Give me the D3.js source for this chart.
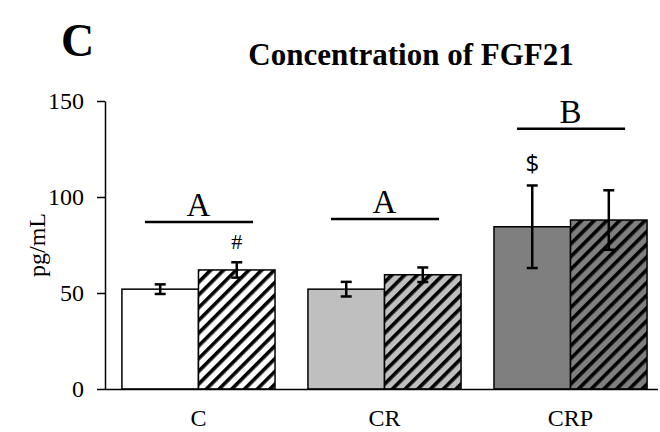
<!DOCTYPE html>
<html>
<head>
<meta charset="utf-8">
<script src="https://cdn.jsdelivr.net/npm/d3@7"></script>
<style>
  body { margin: 0; background: #fff; }
  svg { display: block; font-family: "Times New Roman", "Liberation Serif", serif; }
</style>
</head>
<body>
<div id="chart"></div>
<script>
// groups and the two bars in each (plain / hatched)
const groups = ['C', 'CR', 'CRP'];
const plainMeans = [52, 52, 84.5];
const plainErrs = [2.5, 3.8, 21.5];
const hatchMeans = [62, 59.5, 88];
const hatchErrs = [4, 3.8, 15.5];
const yTicks = [0, 50, 100, 150];

// significance letters over each group
const letters = ['A', 'A', 'B'];
const letterLevels = [87, 88.5, 135.5];
// extra markers above single bars
const markers = [
  { group: 'C', bar: 'hatch', label: '#', level: 73 },
  { group: 'CRP', bar: 'plain', label: '$', level: 113 }
];

const fills = { C: '#ffffff', CR: '#bfbfbf', CRP: '#7f7f7f' };
const serif = '"Times New Roman", "Liberation Serif", serif';

const width = 660, height = 432;
const svg = d3.select('#chart').append('svg')
  .attr('width', width)
  .attr('height', height);

// hatch patterns, one per group background
const defs = svg.append('defs');
groups.forEach(g => {
  const p = defs.append('pattern')
    .attr('id', 'hatch-' + g)
    .attr('patternUnits', 'userSpaceOnUse')
    .attr('width', 9)
    .attr('height', 9)
    .attr('patternTransform', 'rotate(45)');
  p.append('rect').attr('width', 9).attr('height', 9).attr('fill', fills[g]);
  p.append('rect').attr('width', 3.6).attr('height', 9).attr('fill', '#000');
});

const x = d3.scaleBand()
  .domain(groups)
  .range([105, 664])
  .paddingInner(0.177)
  .paddingOuter(0.091);

const xSub = d3.scaleBand()
  .domain(['plain', 'hatch'])
  .range([0, x.bandwidth()]);

const y = d3.scaleLinear().domain([0, 150]).range([389, 101]);

const rows = groups.map((g, i) => ({
  group: g,
  bars: [
    { key: 'plain', mean: plainMeans[i], err: plainErrs[i] },
    { key: 'hatch', mean: hatchMeans[i], err: hatchErrs[i] }
  ]
}));

// bars
const gGroup = svg.append('g').selectAll('g')
  .data(rows)
  .join('g')
  .attr('transform', d => `translate(${x(d.group)},0)`);

gGroup.selectAll('rect')
  .data(d => d.bars.map(b => ({ ...b, group: d.group })))
  .join('rect')
  .attr('x', d => xSub(d.key))
  .attr('y', d => y(d.mean))
  .attr('width', xSub.bandwidth())
  .attr('height', d => y(0) - y(d.mean))
  .attr('fill', d => d.key === 'plain' ? fills[d.group] : `url(#hatch-${d.group})`)
  .attr('stroke', '#000')
  .attr('stroke-width', 1.5);

// error bars
const eb = gGroup.selectAll('g.err')
  .data(d => d.bars)
  .join('g')
  .attr('class', 'err')
  .attr('transform', d => `translate(${xSub(d.key) + xSub.bandwidth() / 2},0)`);

eb.append('line')
  .attr('y1', d => y(d.mean - d.err))
  .attr('y2', d => y(d.mean + d.err))
  .attr('stroke', '#000').attr('stroke-width', 2.5);
eb.selectAll('line.cap')
  .data(d => [d.mean - d.err, d.mean + d.err])
  .join('line')
  .attr('class', 'cap')
  .attr('x1', -5.5).attr('x2', 5.5)
  .attr('y1', v => y(v)).attr('y2', v => y(v))
  .attr('stroke', '#000').attr('stroke-width', 2.5);

// axes
const yAxis = svg.append('g')
  .attr('transform', 'translate(105,0)')
  .call(d3.axisLeft(y).tickValues(yTicks).tickSize(8).tickSizeOuter(0));
yAxis.select('.domain').attr('stroke', '#000').attr('stroke-width', 1.5);
yAxis.selectAll('.tick line').attr('stroke', '#000').attr('stroke-width', 1.5);
yAxis.selectAll('.tick text')
  .attr('x', -21)
  .attr('font-size', 24)
  .attr('font-family', serif)
  .attr('fill', '#000');

const xAxis = svg.append('g')
  .attr('transform', `translate(0,${y(0)})`)
  .call(d3.axisBottom(x).tickSize(0).tickSizeOuter(0));
xAxis.select('.domain').attr('stroke', '#000').attr('stroke-width', 1.5)
  .attr('d', 'M105,0.5H658');
xAxis.selectAll('.tick text')
  .attr('y', 20)
  .attr('font-size', 24)
  .attr('font-family', serif)
  .attr('fill', '#000');

// axis title
svg.append('text')
  .attr('transform', `translate(45,${y(75)}) rotate(-90)`)
  .attr('text-anchor', 'middle')
  .attr('font-size', 24)
  .text('pg/mL');

// significance lines and letters
const sig = svg.append('g').selectAll('g')
  .data(groups.map((g, i) => ({ group: g, letter: letters[i], level: letterLevels[i] })))
  .join('g');
sig.append('line')
  .attr('x1', d => x(d.group) + 23)
  .attr('x2', d => x(d.group) + x.bandwidth() - 22)
  .attr('y1', d => y(d.level))
  .attr('y2', d => y(d.level))
  .attr('stroke', '#000').attr('stroke-width', 2.5);
sig.append('text')
  .attr('x', d => x(d.group) + x.bandwidth() / 2)
  .attr('y', d => y(d.level) - 6)
  .attr('text-anchor', 'middle')
  .attr('font-size', 33)
  .text(d => d.letter);

svg.append('g').selectAll('text')
  .data(markers)
  .join('text')
  .attr('x', d => x(d.group) + xSub(d.bar) + xSub.bandwidth() / 2)
  .attr('y', d => y(d.level))
  .attr('text-anchor', 'middle')
  .attr('font-size', d => d.label === '$' ? 24 : 22)
  .attr('font-family', d => d.label === '$' ? '"Open Sans", "DejaVu Sans", sans-serif' : serif)
  .text(d => d.label);

// titles
svg.append('text')
  .attr('x', 411)
  .attr('y', 65)
  .attr('text-anchor', 'middle')
  .attr('font-size', 31)
  .attr('font-weight', 'bold')
  .text('Concentration of FGF21');

svg.append('text')
  .attr('x', 61)
  .attr('y', 56)
  .attr('font-size', 46)
  .attr('font-weight', 'bold')
  .text('C');
</script>
</body>
</html>
